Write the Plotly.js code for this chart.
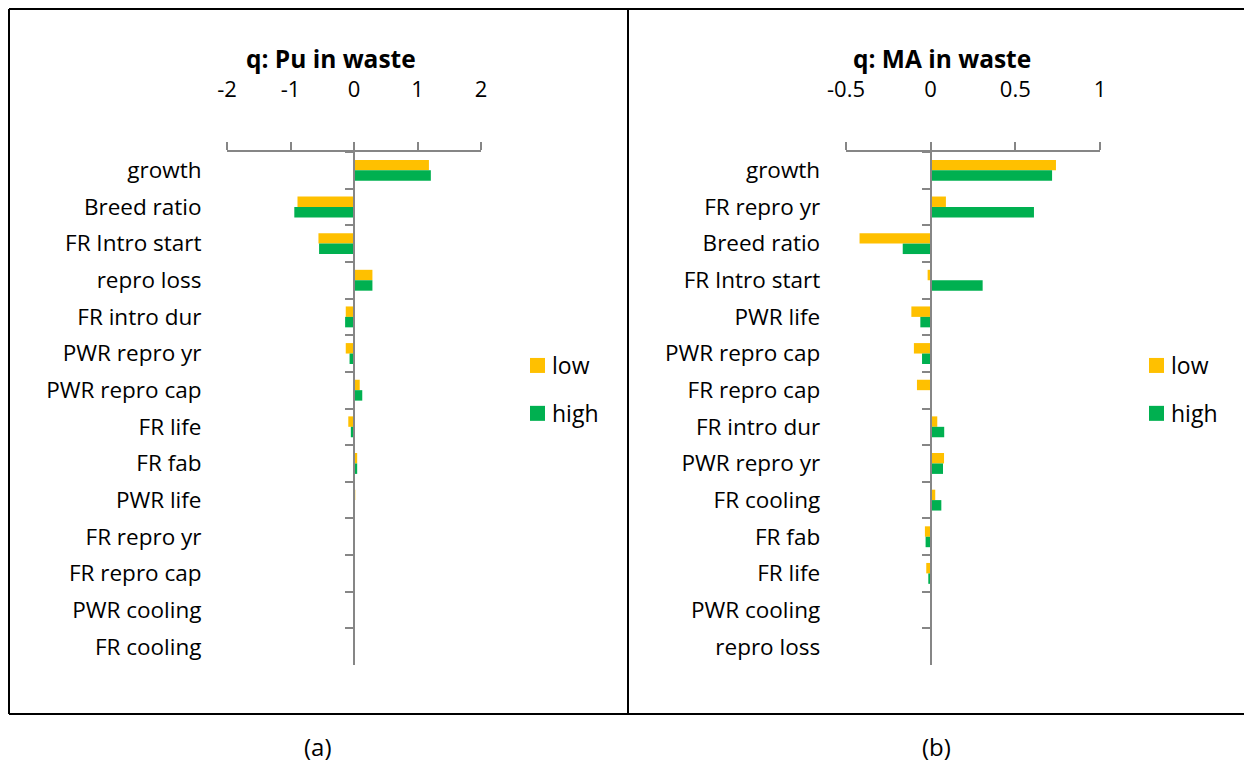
<!DOCTYPE html>
<html>
<head>
<meta charset="utf-8">
<script src="https://cdn.plot.ly/plotly-3.0.1.min.js"></script>
<style>html,body{margin:0;padding:0;background:#fff;}#chart{width:1244px;height:762px;}</style>
</head>
<body>
<div id="chart"></div>
<script>
// Panel (a): q: Pu in waste
const catsA = ["growth","Breed ratio","FR Intro start","repro loss","FR intro dur","PWR repro yr","PWR repro cap","FR life","FR fab","PWR life","FR repro yr","FR repro cap","PWR cooling","FR cooling"];
const lowA  = [1.18,-0.89,-0.56,0.29,-0.13,-0.13,0.09,-0.09,0.05,0.02,0,0.005,0,0];
const highA = [1.21,-0.94,-0.55,0.29,-0.14,-0.07,0.13,-0.05,0.05,0.003,-0.01,0,0,0];
const ticksA = [-2,-1,0,1,2];
const tickTextA = ["-2","-1","0","1","2"];

// Panel (b): q: MA in waste
const catsB = ["growth","FR repro yr","Breed ratio","FR Intro start","PWR life","PWR repro cap","FR repro cap","FR intro dur","PWR repro yr","FR cooling","FR fab","FR life","PWR cooling","repro loss"];
const lowB  = [0.74,0.09,-0.42,-0.018,-0.114,-0.099,-0.081,0.039,0.079,0.027,-0.034,-0.026,0.006,0];
const highB = [0.717,0.61,-0.165,0.307,-0.061,-0.051,0,0.080,0.073,0.063,-0.030,-0.014,0.005,0];
const ticksB = [-0.5,0,0.5,1];
const tickTextB = ["-0.5","0","0.5","1"];

const seriesNames = ["low","high"];
const colors = ["#FFC000","#00B050"];

const W = 1244, H = 762;
const px = v => v / W;
const py = v => 1 - v / H;
const FONT = "'Open Sans', Lato, sans-serif";
const AX = "#868686";

const traces = [
  {type:"bar", orientation:"h", name:seriesNames[0], y:catsA, x:lowA, marker:{color:colors[0]}, xaxis:"x", yaxis:"y", legend:"legend", legendgroup:"a0"},
  {type:"bar", orientation:"h", name:seriesNames[1], y:catsA, x:highA, marker:{color:colors[1]}, xaxis:"x", yaxis:"y", legend:"legend", legendgroup:"a1"},
  {type:"bar", orientation:"h", name:seriesNames[0], y:catsB, x:lowB, marker:{color:colors[0]}, xaxis:"x2", yaxis:"y2", legend:"legend2", legendgroup:"b0"},
  {type:"bar", orientation:"h", name:seriesNames[1], y:catsB, x:highB, marker:{color:colors[1]}, xaxis:"x2", yaxis:"y2", legend:"legend2", legendgroup:"b1"}
];

const yDom = [py(665), py(152)];
function xAxis(dom, range, ticks, text, anchor){
  return {domain:dom, range:range, anchor:anchor, side:"top", tickmode:"array", tickvals:ticks, ticktext:text,
    showline:true, linecolor:AX, linewidth:2, ticks:"outside", ticklen:8, tickwidth:2, tickcolor:AX,
    showgrid:false, zeroline:false, ticklabelstandoff:36, tickfont:{family:FONT, size:22, color:"#000"}, fixedrange:true};
}
function yAxis(pos, cats, standoff){
  return {domain:yDom, type:"category", categoryorder:"array", categoryarray:cats, autorange:"reversed",
    anchor:"free", position:pos, showline:true, linecolor:AX, linewidth:2, ticks:"outside", tickson:"boundaries",
    ticklen:8, tickwidth:2, tickcolor:AX, showgrid:false, zeroline:false, ticklabelstandoff:standoff,
    tickfont:{family:FONT, size:22.5, color:"#000"}, fixedrange:true};
}

const domA = [px(227), px(481)];
const domB = [px(846), px(1100)];
const zeroA = domA[0] + (domA[1]-domA[0]) * 0.5;
const zeroB = domB[0] + (domB[1]-domB[0]) * (0.5/1.5);

const line = (x0,y0,x1,y1) => ({type:"line", xref:"paper", yref:"paper", x0:px(x0), y0:py(y0), x1:px(x1), y1:py(y1), line:{color:"#000", width:2}});
const legendFont = {family:FONT, size:23, color:"#000"};

const layout = {
  width:W, height:H, margin:{l:0,r:0,t:0,b:0}, paper_bgcolor:"#fff", plot_bgcolor:"rgba(0,0,0,0)",
  barmode:"group", bargap:0.43, bargroupgap:0,
  font:{family:FONT, color:"#000"},
  xaxis: xAxis(domA, [-2,2], ticksA, tickTextA, "y"),
  yaxis: yAxis(zeroA, catsA, 147),
  xaxis2: xAxis(domB, [-0.5,1], ticksB, tickTextB, "y2"),
  yaxis2: yAxis(zeroB, catsB, 105),
  legend:{x:px(512), y:py(344), xanchor:"left", yanchor:"top", font:legendFont, traceorder:"grouped", tracegroupgap:15, bgcolor:"rgba(0,0,0,0)"},
  legend2:{x:px(1131), y:py(344), xanchor:"left", yanchor:"top", font:legendFont, traceorder:"grouped", tracegroupgap:15, bgcolor:"rgba(0,0,0,0)"},
  annotations:[
    {text:"<b>q: Pu in waste</b>", xref:"paper", yref:"paper", x:px(331), y:py(58), xanchor:"center", yanchor:"middle", showarrow:false, font:{family:FONT, size:24.5, color:"#000"}},
    {text:"<b>q: MA in waste</b>", xref:"paper", yref:"paper", x:px(942), y:py(58), xanchor:"center", yanchor:"middle", showarrow:false, font:{family:FONT, size:24.5, color:"#000"}},
    {text:"(a)", xref:"paper", yref:"paper", x:px(318), y:py(746), xanchor:"center", yanchor:"middle", showarrow:false, font:{family:FONT, size:24, color:"#000"}},
    {text:"(b)", xref:"paper", yref:"paper", x:px(936), y:py(746), xanchor:"center", yanchor:"middle", showarrow:false, font:{family:FONT, size:24, color:"#000"}}
  ],
  shapes:[
    line(9,9,1244,9),
    line(9,714,1244,714),
    line(9,9,9,714),
    line(628,9,628,714)
  ]
};

Plotly.newPlot("chart", traces, layout, {displayModeBar:false, staticPlot:true}).then(gd => {
  // enlarge legend colour keys to match the reference's square swatches
  gd.querySelectorAll(".legendpoints path").forEach(p => p.setAttribute("d", "M13,7.5H-2V-7.5H13Z"));
});
</script>
</body>
</html>
